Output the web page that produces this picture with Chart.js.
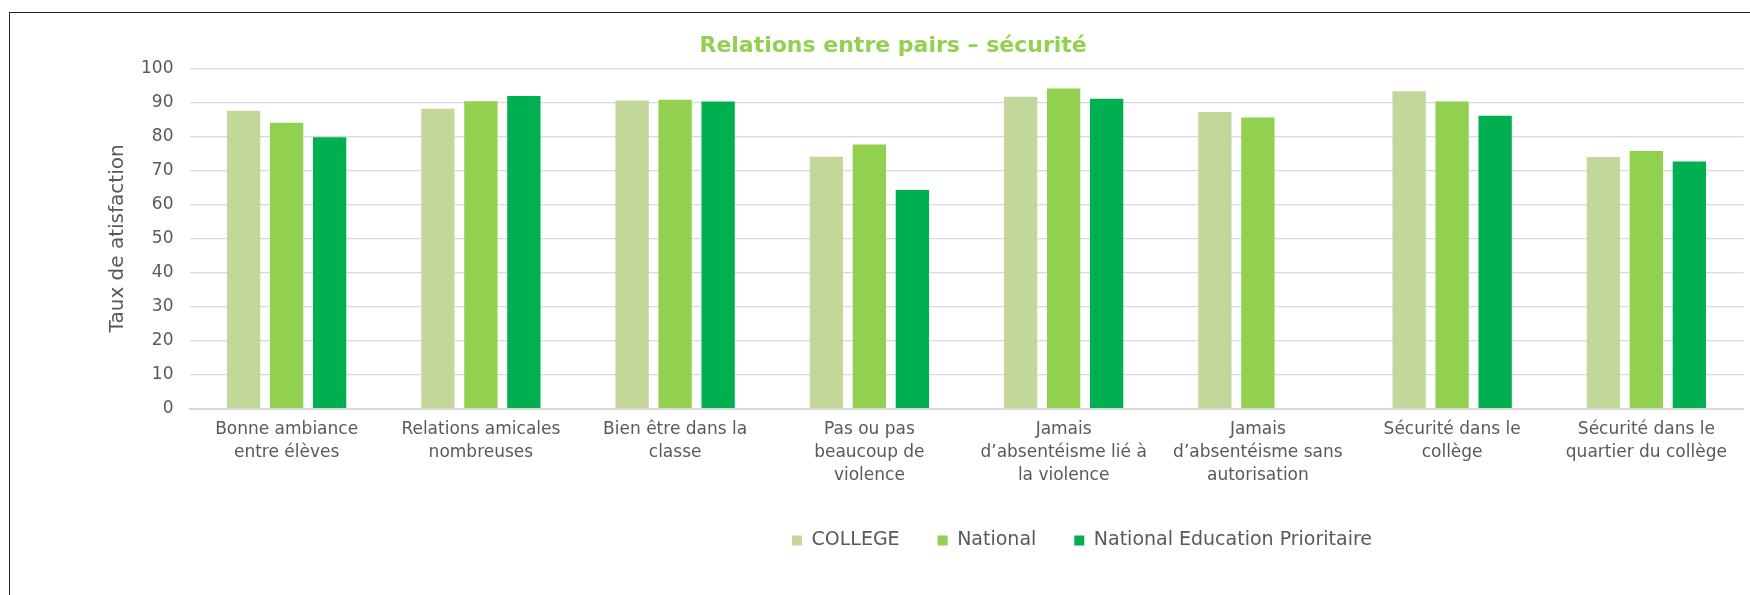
<!DOCTYPE html>
<html>
<head>
<meta charset="utf-8">
<script src="https://cdn.jsdelivr.net/npm/chart.js@4"></script>
<style>
  body { margin: 0; background: #fff; overflow: hidden; }
  #frame { position: absolute; left: 9px; top: 12px; width: 1758px; height: 600px; border: 1.5px solid #222; }
</style>
</head>
<body>
<div id="frame"><canvas id="chart"></canvas></div>
<script>
// Données
const categories = [
    ["Bonne ambiance", "entre élèves"],
    ["Relations amicales", "nombreuses"],
    ["Bien être dans la", "classe"],
    ["Pas ou pas", "beaucoup de", "violence"],
    ["Jamais", "d’absentéisme lié à", "la violence"],
    ["Jamais", "d’absentéisme sans", "autorisation"],
    ["Sécurité dans le", "collège"],
    ["Sécurité dans le", "quartier du collège"]
];
const seriesNames = ["COLLEGE", "National", "National Education Prioritaire"];
const college = [87.5, 88.1, 90.5, 74.0, 91.6, 87.1, 93.2, 73.9];
const national = [84.0, 90.3, 90.7, 77.6, 94.0, 85.5, 90.2, 75.7];
const nationalEP = [79.7, 91.8, 90.2, 64.2, 91.0, null, 86.0, 72.6];
const yTicks = [0, 10, 20, 30, 40, 50, 60, 70, 80, 90, 100];

const colors = ['#c4d79b', '#92d050', '#00b050'];
const textColor = '#595959';
const FONT = "'DejaVu Sans', sans-serif";

// Décale la légende (position Excel, pas centrée)
const legendShift = {
    id: 'legendShift',
    afterLayout(chart) {
        const lg = chart.legend;
        const w = lg.right - lg.left;
        lg.left = 782 - 38;
        lg.right = lg.left + w;
    }
};

new Chart(document.getElementById('chart').getContext('2d'), {
    type: 'bar',
    data: {
        labels: categories,
        datasets: [college, national, nationalEP].map((d, i) => ({
            label: seriesNames[i],
            data: d,
            backgroundColor: colors[i],
            borderWidth: 0,
            categoryPercentage: 0.664,
            barPercentage: 0.775
        }))
    },
    options: {
        responsive: true,
        maintainAspectRatio: false,
        animation: false,
        layout: { padding: { left: 32.7, right: 24.5, top: 0, bottom: 53 } },
        scales: {
            x: {
                grid: { display: false, drawTicks: false },
                border: { display: true, color: '#d9d9d9', width: 2 },
                afterFit(scale) { scale.height -= 3.4; },
                ticks: {
                    color: textColor,
                    font: { family: FONT, size: 17, lineHeight: 1.33 },
                    padding: 10,
                    maxRotation: 0,
                    autoSkip: false
                }
            },
            y: {
                min: 0,
                max: 100,
                afterBuildTicks(scale) { scale.ticks = yTicks.map(v => ({ value: v })); },
                afterFit(scale) { scale.width = 146.8; },
                grid: { color: '#d9d9d9', lineWidth: 1.3, drawTicks: false },
                border: { display: false },
                ticks: {
                    color: textColor,
                    font: { family: FONT, size: 17 },
                    padding: 16
                },
                title: {
                    display: true,
                    text: 'Taux de atisfaction',
                    color: textColor,
                    font: { family: FONT, size: 20, lineHeight: 1.2 },
                    padding: { top: 62.8, bottom: 0 }
                }
            }
        },
        plugins: {
            title: {
                display: true,
                text: 'Relations entre pairs – sécurité',
                color: '#92d050',
                font: { family: FONT, size: 22, weight: 'bold', lineHeight: 1.2 },
                padding: { top: 20.4, bottom: 8.4 }
            },
            legend: {
                position: 'bottom',
                align: 'start',
                labels: {
                    color: textColor,
                    font: { family: FONT, size: 19 },
                    boxWidth: 10,
                    boxHeight: 10,
                    padding: 38
                }
            },
            tooltip: { enabled: false }
        }
    },
    plugins: [legendShift]
});
</script>
</body>
</html>
